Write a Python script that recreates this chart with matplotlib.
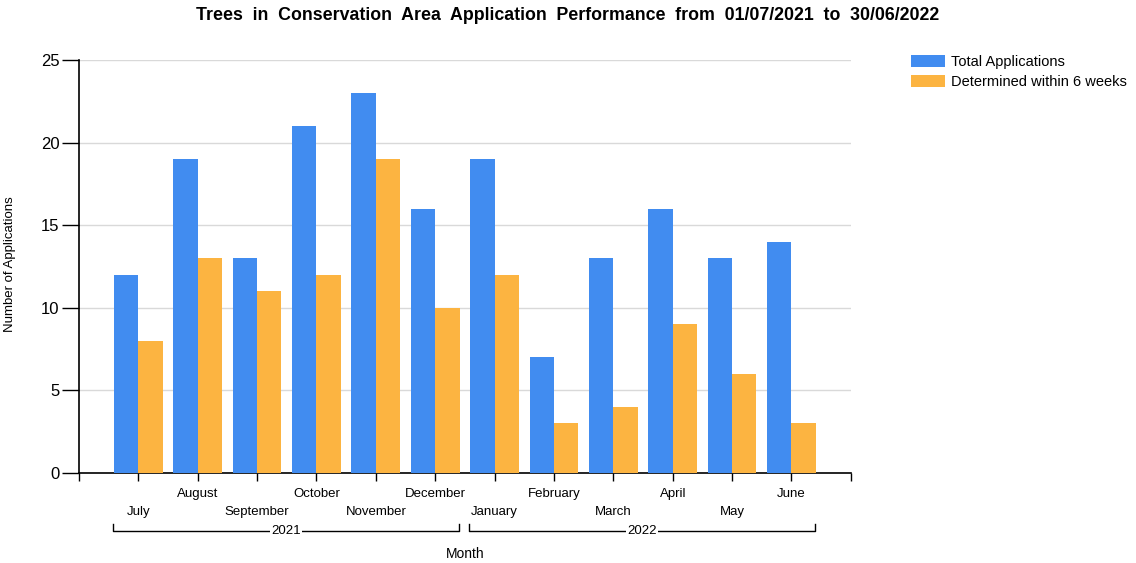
import numpy as np
import matplotlib.pyplot as plt
from matplotlib.transforms import blended_transform_factory

plt.rcParams['font.family'] = ['Liberation Sans', 'DejaVu Sans']

months = ['July', 'August', 'September', 'October', 'November', 'December',
          'January', 'February', 'March', 'April', 'May', 'June']
years = ['2021', '2022']
total = [12, 19, 13, 21, 23, 16, 19, 7, 13, 16, 13, 14]
within_6_weeks = [8, 13, 11, 12, 19, 10, 12, 3, 4, 9, 6, 3]

blue = '#418CF0'
orange = '#FCB441'

fig = plt.figure(figsize=(11.36, 5.63), dpi=100)
ax = fig.add_axes([0.0695, 0.160, 0.6795, 0.733])

x = np.arange(1, len(months) + 1)
w = 0.41
ax.bar(x - w / 2, total, w, color=blue, label='Total Applications', zorder=3)
ax.bar(x + w / 2, within_6_weeks, w, color=orange,
       label='Determined within 6 weeks', zorder=3)

ax.set_xlim(0, len(months) + 1)
ax.set_ylim(0, 25)
ax.set_yticks(range(0, 26, 5))
ax.yaxis.grid(True, color='#d9d9d9', linewidth=1, zorder=0)
ax.set_xticks(range(0, len(months) + 2))
ax.set_xticklabels([])
for s in ['top', 'right']:
    ax.spines[s].set_visible(False)
ax.spines['left'].set_linewidth(1.2)
ax.spines['bottom'].set_linewidth(1.2)
ax.tick_params(axis='y', length=12, width=1, labelsize=12, pad=2)
ax.tick_params(axis='x', length=6, width=1)

# staggered month labels under the axis
tr = blended_transform_factory(ax.transData, ax.transAxes)
for i, m in enumerate(months):
    yy = -0.094 if i % 2 == 0 else -0.05
    ax.text(x[i], yy, m, transform=tr, ha='center', va='center', fontsize=9.5)

# year brackets
by = -0.14
for j, yr in enumerate(years):
    x0 = x[j * 6] - 0.43
    x1 = x[j * 6 + 5] + 0.40
    ax.plot([x0, x0, x1, x1], [by + 0.017, by, by, by + 0.017], color='black',
            lw=1, transform=tr, clip_on=False)
    ax.text((x0 + x1) / 2, by, yr, transform=tr, ha='center', va='center',
            fontsize=9.5, bbox=dict(facecolor='white', edgecolor='none', pad=1))

ax.text(0.5, -0.197, 'Month', transform=ax.transAxes, ha='center', va='center',
        fontsize=10)
fig.text(0.009, 0.53, 'Number of Applications', rotation=90, ha='center',
         va='center', fontsize=9.5)

fig.suptitle('Trees  in  Conservation  Area  Application  Performance  from  01/07/2021  to  30/06/2022',
             x=0.5, y=0.987, fontsize=12.8, fontweight='bold')

fig.legend(loc='upper left', bbox_to_anchor=(0.797, 0.912), frameon=False,
           fontsize=10.5, handlelength=2.3, handleheight=0.9, labelspacing=0.4,
           handletextpad=0.45, borderaxespad=0)

fig.savefig('out.png', dpi=100)
